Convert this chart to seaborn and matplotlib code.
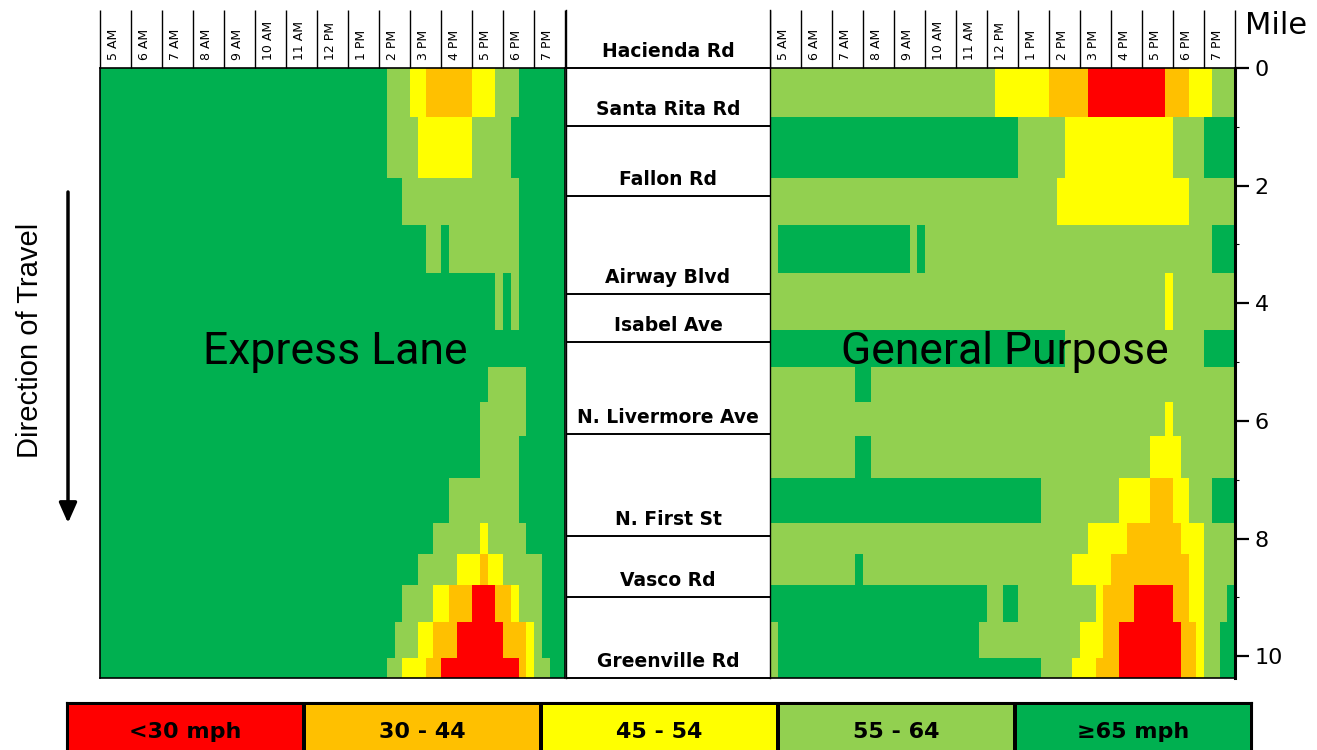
import numpy as np
import matplotlib
matplotlib.use("Agg")
import matplotlib.pyplot as plt
import matplotlib.transforms as mtransforms
from matplotlib.colors import ListedColormap
import seaborn as sns

# speed bins, legend order; codes used in the run-length rows below
speed_bins = ["<30 mph", "30 - 44", "45 - 54", "55 - 64", "≥65 mph"]
bin_colors = ["#FF0000", "#FFC000", "#FFFF00", "#92D050", "#00B050"]
bin_codes = "ROYLG"

hour_labels = ["5 AM", "6 AM", "7 AM", "8 AM", "9 AM", "10 AM", "11 AM", "12 PM",
               "1 PM", "2 PM", "3 PM", "4 PM", "5 PM", "6 PM", "7 PM"]

# detector segment boundaries, miles from Hacienda Rd
segment_edges_mi = [0, 0.83, 1.87, 2.67, 3.49, 4.46, 5.09, 5.68, 6.26,
                    6.97, 7.74, 8.27, 8.79, 9.42, 10.03, 10.37]

interchanges = ["Hacienda Rd", "Santa Rita Rd", "Fallon Rd", "Airway Blvd", "Isabel Ave",
                "N. Livermore Ave", "N. First St", "Vasco Rd", "Greenville Rd"]
interchange_mi = [0, 0.99, 2.18, 3.84, 4.66, 6.22, 7.96, 9.0, 10.37]

# 15-minute speed bins per segment, 5 AM - 8 PM (run-length: count + code)
express_lane = [
    "37G 3L 2Y 6O 3Y 3L 6G",
    "37G 4L 7Y 5L 7G",
    "39G 15L 6G",
    "42G 2L 1G 9L 6G",
    "51G 1L 1G 1L 6G",
    "60G",
    "50G 5L 5G",
    "49G 6L 5G",
    "49G 5L 6G",
    "45G 9L 6G",
    "43G 6L 1Y 5L 5G",
    "41G 5L 3Y 1O 2Y 5L 3G",
    "39G 4L 2Y 3O 3R 2O 1Y 3L 3G",
    "38G 3L 2Y 3O 6R 3O 1Y 1L 3G",
    "37G 2L 3Y 2O 10R 1O 1Y 2L 2G",
]

general_purpose = [
    "29L 7Y 5O 10R 3O 3Y 3L",
    "32G 6L 14Y 4L 4G",
    "37L 17Y 6L",
    "1L 17G 1L 1G 37L 3G",
    "51L 1Y 8L",
    "38G 18L 4G",
    "11L 2G 47L",
    "51L 1Y 8L",
    "11L 2G 36L 4Y 7L",
    "35G 10L 4Y 3O 2Y 3L 3G",
    "41L 5Y 7O 3Y 4L",
    "11L 1G 27L 5Y 10O 2Y 4L",
    "28G 2L 2G 10L 1Y 4O 5R 2O 2Y 3L 1G",
    "1L 26G 13L 3Y 2O 8R 2O 1Y 2L 2G",
    "1L 34G 4L 3Y 3O 8R 2O 1Y 2L 2G",
]


def decode(rows):
    grid = []
    for row in rows:
        cells = []
        for run in row.split():
            cells += [bin_codes.index(run[-1])] * int(run[:-1])
        assert len(cells) == 60, row
        grid.append(cells)
    return np.array(grid)


sns.set_theme(style="white")
plt.rcParams["font.family"] = ["DejaVu Sans"]
plt.rcParams["text.color"] = "black"
plt.rcParams["ytick.color"] = "black"
plt.rcParams["ytick.labelcolor"] = "black"

W, H = 1317, 750
fig = plt.figure(figsize=(W / 100, H / 100), dpi=100)


def px_axes(x0, y0, x1, y1):
    return fig.add_axes([x0 / W, 1 - y1 / H, (x1 - x0) / W, (y1 - y0) / H])


cmap = ListedColormap(bin_colors)
time_edges = 5 + np.arange(61) * 0.25
bottom_mi = segment_edges_mi[-1]
top_px, bot_px, head_px = 68, 678, 10
px_per_mi = (bot_px - top_px) / bottom_mi

# free-floating text and arrow
ax_bg = fig.add_axes([0, 0, 1, 1])
ax_bg.set_xlim(0, W)
ax_bg.set_ylim(H, 0)
ax_bg.axis("off")
ax_bg.text(30, 340, "Direction of Travel", rotation=90, ha="center", va="center",
           fontsize=21, family="Liberation Sans")
ax_bg.annotate("", xy=(68, 523), xytext=(68, 192),
               arrowprops=dict(arrowstyle="-|>,head_length=0.45,head_width=0.2",
                               lw=2.5, color="black", mutation_scale=27,
                               shrinkA=0, shrinkB=0))
ax_bg.text(1276, 25, "Mile", ha="center", va="center", fontsize=22)

panels = [(100, 565, express_lane, "Express Lane"),
          (770, 1235, general_purpose, "General Purpose")]

for x0, x1, rows, title in panels:
    ax = px_axes(x0, top_px, x1, bot_px)
    ax.pcolormesh(time_edges, segment_edges_mi, decode(rows), cmap=cmap,
                  vmin=-0.5, vmax=4.5, edgecolors="none", antialiased=False)
    ax.set_xlim(5, 20)
    ax.set_ylim(bottom_mi, 0)
    ax.set_xticks([])
    ax.set_yticks([])
    for s in ax.spines.values():
        s.set_visible(True)
        s.set_color("black")
        s.set_linewidth(1.2)
    trans = mtransforms.blended_transform_factory(ax.transAxes, ax.transData)
    ax.text(0.505, 4.83, title, transform=trans, ha="center", va="center",
            fontsize=32, family="Roboto")

    # hour header
    axh = px_axes(x0, head_px, x1, top_px)
    axh.set_xlim(5, 20)
    axh.set_ylim(0, 1)
    axh.axis("off")
    axh.vlines(range(5, 21), 0, 1, color="black", lw=1, clip_on=False)
    for h, lab in zip(range(5, 20), hour_labels):
        axh.text(h + 0.45, 0.13, lab, rotation=90, ha="center", va="bottom", fontsize=9)

    if title == "General Purpose":
        ax.spines["right"].set_linewidth(2.2)
        ax.set_yticks(range(0, 11, 2))
        ax.set_yticks([1, 3, 5, 7, 9], minor=True)
        ax.tick_params(axis="y", which="both", left=False, right=True,
                       labelleft=False, labelright=True, colors="black")
        ax.tick_params(axis="y", which="major", length=10, width=1.6, labelsize=16, pad=4)
        ax.tick_params(axis="y", which="minor", length=3, width=0.8)

# interchange column
axm = px_axes(566, head_px, 770, bot_px)
axm.set_xlim(0, 1)
axm.set_ylim(bottom_mi, -(top_px - head_px) / px_per_mi)
axm.set_xticks([])
axm.set_yticks([])
axm.spines["top"].set_visible(False)
axm.spines["bottom"].set_visible(False)
for side in ["left", "right"]:
    axm.spines[side].set_visible(True)
    axm.spines[side].set_color("black")
    axm.spines[side].set_linewidth(1)
axm.hlines(interchange_mi, 0, 1, color="black", lw=1.4, clip_on=False)
for name, mi in zip(interchanges, interchange_mi):
    axm.text(0.5, mi - 0.28, name, ha="center", va="center",
             fontsize=13.5, fontweight="bold")

# colour key
axl = px_axes(67, 703, 1252, 760)
sns.heatmap(np.arange(5).reshape(1, 5), cmap=cmap, vmin=-0.5, vmax=4.5,
            annot=np.array([speed_bins]), fmt="", cbar=False,
            linewidths=1.5, linecolor="black", xticklabels=False, yticklabels=False,
            annot_kws=dict(fontsize=16, fontweight="bold", color="black"), ax=axl)
for s in axl.spines.values():
    s.set_visible(True)
    s.set_color("black")
    s.set_linewidth(1.5)

fig.savefig("out.png", dpi=100)
